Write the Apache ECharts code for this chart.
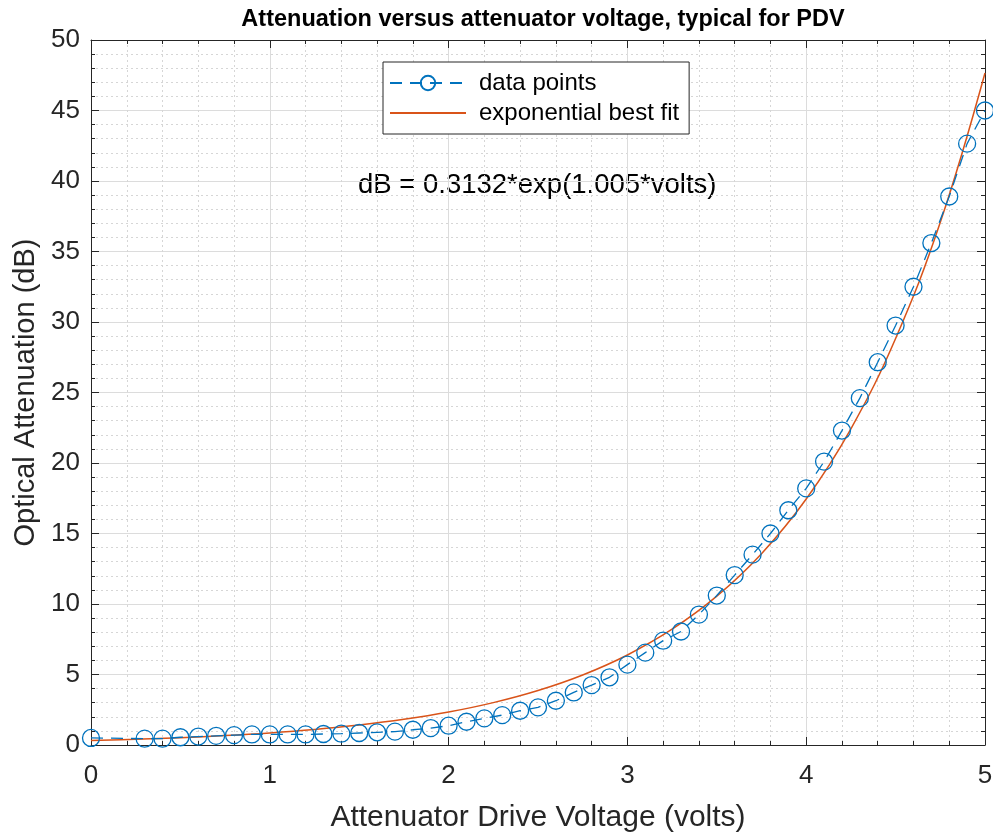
<!DOCTYPE html>
<html>
<head>
<meta charset="utf-8">
<script src="https://cdn.jsdelivr.net/npm/echarts@6/dist/echarts.min.js"></script>
<style>
html,body{margin:0;padding:0;background:#fff;}
#chart{width:993px;height:836px;}
</style>
</head>
<body>
<div id="chart"></div>
<script>
// Measured data points (volts, dB)
const voltages = [0, 0.3, 0.4, 0.5, 0.6, 0.7, 0.8, 0.9, 1.0, 1.1, 1.2, 1.3, 1.4, 1.5, 1.6, 1.7, 1.8, 1.9,
  2.0, 2.1, 2.2, 2.3, 2.4, 2.5, 2.6, 2.7, 2.8, 2.9, 3.0, 3.1, 3.2, 3.3, 3.4, 3.5, 3.6, 3.7, 3.8, 3.9,
  4.0, 4.1, 4.2, 4.3, 4.4, 4.5, 4.6, 4.7, 4.8, 4.9, 5.0];
const attenuation = [0.5, 0.45, 0.45, 0.55, 0.6, 0.65, 0.7, 0.75, 0.75, 0.75, 0.75, 0.78, 0.8, 0.85, 0.9, 0.95, 1.08, 1.2,
  1.37, 1.65, 1.89, 2.12, 2.43, 2.67, 3.14, 3.73, 4.25, 4.8, 5.7, 6.55, 7.4, 8.05, 9.25, 10.6, 12.05, 13.5, 15.0, 16.65,
  18.2, 20.1, 22.3, 24.6, 27.15, 29.75, 32.5, 35.6, 38.9, 42.65, 45.0];
// Exponential best-fit curve as drawn (volts, dB)
const fitVolts = [0, 0.25, 0.5, 0.75, 1.0, 1.25, 1.5, 1.75, 2.0, 2.25, 2.5, 2.75, 3.0, 3.25, 3.5, 3.75, 4.0, 4.25, 4.5, 4.75, 5.0];
const fitDb = [0.313, 0.403, 0.518, 0.666, 0.856, 1.100, 1.414, 1.818, 2.338, 3.005, 3.864, 4.967, 6.386, 8.210,
  10.555, 13.570, 17.446, 22.428, 28.835, 37.07, 47.66];
const xTicks = [0, 1, 2, 3, 4, 5];
const yTicks = [0, 5, 10, 15, 20, 25, 30, 35, 40, 45, 50];

const titleText = 'Attenuation versus attenuator voltage, typical for PDV';
const xName = 'Attenuator Drive Voltage (volts)';
const yName = 'Optical Attenuation (dB)';
const seriesNames = ['data points', 'exponential best fit'];
const equationText = 'dB = 0.3132*exp(1.005*volts)';

const FONT = '"Liberation Sans", Arial, Helvetica, sans-serif';
const AXIS = '#262626';
const BLUE = '#0072BD';
const ORANGE = '#D95319';

const chart = echarts.init(document.getElementById('chart'), null, {renderer: 'canvas'});

function baseAxis(min, max, interval, showLabels) {
  return {
    type: 'value', min: min, max: max, interval: interval,
    axisLine: {show: true, onZero: false, lineStyle: {color: AXIS, width: 1}},
    axisTick: {show: true, inside: true, length: 8, lineStyle: {color: AXIS}},
    minorTick: {show: true, splitNumber: 5, length: 4, lineStyle: {color: AXIS}},
    axisLabel: {show: showLabels, color: AXIS, fontFamily: FONT, fontSize: 26},
    splitLine: {show: showLabels, lineStyle: {color: '#dcdcdc', width: 1}},
    minorSplitLine: {show: showLabels, lineStyle: {color: '#d6d6d6', width: 1, type: [2, 3]}}
  };
}

const xMain = Object.assign(baseAxis(xTicks[0], xTicks[xTicks.length - 1], 1, true), {
  position: 'bottom', name: xName, nameLocation: 'middle', nameGap: 58,
  nameTextStyle: {fontFamily: FONT, fontSize: 30, color: AXIS}
});
xMain.axisLabel.margin = 18;
const xTop = Object.assign(baseAxis(xTicks[0], xTicks[xTicks.length - 1], 1, false), {position: 'top'});

const yMain = Object.assign(baseAxis(yTicks[0], yTicks[yTicks.length - 1], 5, true), {
  position: 'left', name: yName, nameLocation: 'middle', nameGap: 50,
  nameTextStyle: {fontFamily: FONT, fontSize: 29, color: AXIS}
});
yMain.axisLabel.margin = 11;
const yRight = Object.assign(baseAxis(yTicks[0], yTicks[yTicks.length - 1], 5, false), {position: 'right'});

const option = {
  backgroundColor: '#ffffff',
  animation: false,
  title: {
    text: titleText, left: 538, textAlign: 'center', top: 3,
    textStyle: {fontFamily: FONT, fontSize: 23.5, fontWeight: 'bold', color: '#000'}
  },
  grid: {left: 91, right: 8, top: 40, bottom: 91, containLabel: false, outerBoundsMode: 'none'},
  xAxis: [xMain, xTop],
  yAxis: [yMain, yRight],
  legend: {
    orient: 'vertical', left: 383, top: 62,
    data: [
      {name: seriesNames[0]},
      {name: seriesNames[1], itemStyle: {opacity: 0}}
    ],
    backgroundColor: '#ffffff', borderColor: AXIS, borderWidth: 1,
    padding: [9, 10, 9, 6], itemGap: 6, itemWidth: 76, itemHeight: 18,
    textStyle: {fontFamily: FONT, fontSize: 24, color: '#000', padding: [0, 0, 0, 8]}
  },
  graphic: [{
    type: 'text', left: 358, top: 171,
    style: {text: equationText, fontFamily: FONT, fontSize: 27.5, fill: '#000'}
  }],
  series: [
    {
      name: seriesNames[0], type: 'line', xAxisIndex: 0, yAxisIndex: 0,
      data: voltages.map((v, i) => [v, attenuation[i]]),
      symbol: 'circle', symbolSize: 17, showAllSymbol: true,
      itemStyle: {color: 'rgba(0,0,0,0)', borderColor: BLUE, borderWidth: 1.3},
      lineStyle: {color: BLUE, width: 1.3, type: [12, 8]},
      clip: false, z: 3
    },
    {
      name: seriesNames[1], type: 'line', xAxisIndex: 0, yAxisIndex: 0,
      data: fitVolts.map((v, i) => [v, fitDb[i]]),
      symbol: 'none', smooth: 0.4,
      itemStyle: {color: ORANGE},
      lineStyle: {color: ORANGE, width: 1.5},
      clip: false, z: 2
    }
  ]
};
chart.setOption(option);
</script>
</body>
</html>
